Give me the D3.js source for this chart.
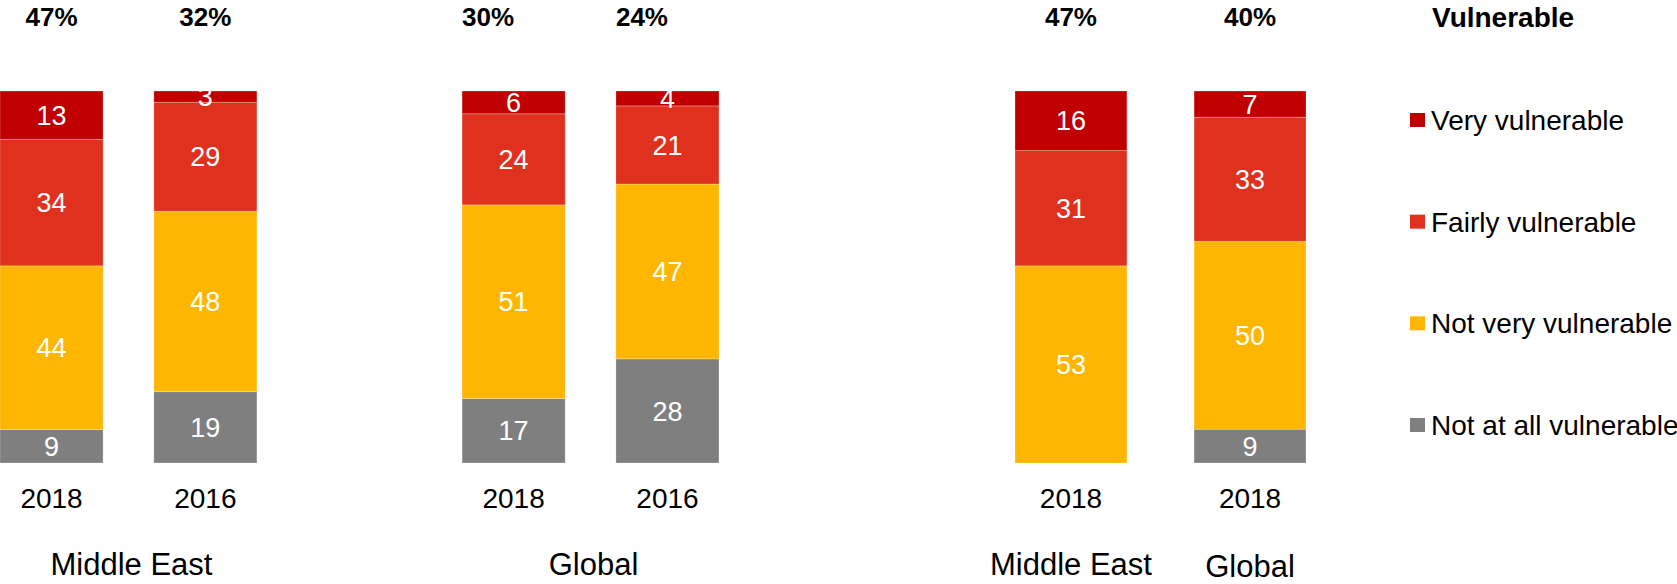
<!DOCTYPE html>
<html>
<head>
<meta charset="utf-8">
<script src="https://cdn.jsdelivr.net/npm/d3@7"></script>
<style>
  body { margin: 0; background: #fff; }
  text { font-family: "Liberation Sans", Arial, sans-serif; }
</style>
</head>
<body>
<svg id="chart"></svg>
<script>
var width = 1677, height = 584

// data
var series = ["Not at all vulnerable", "Not very vulnerable", "Fairly vulnerable", "Very vulnerable"]
var colors = ["#7f7f7f", "#ffb600", "#e0301e", "#c00000"]

var leftGroups = ["Middle East", "Global"]
var leftYears = ["2018", "2016"]
var leftData = [
    { group: "Middle East", year: "2018", total: "47", values: [9, 44, 34, 13] },
    { group: "Middle East", year: "2016", total: "32", values: [19, 48, 29, 3] },
    { group: "Global", year: "2018", total: "30", values: [17, 51, 24, 6] },
    { group: "Global", year: "2016", total: "24", values: [28, 47, 21, 4] }
]

var rightGroups = ["Middle East", "Global"]
var rightData = [
    { group: "Middle East", year: "2018", total: "47", values: [0, 53, 31, 16] },
    { group: "Global", year: "2018", total: "40", values: [9, 50, 33, 7] }
]

var legendTitle = "Vulnerable"
var legendOrder = [3, 2, 1, 0]

var svg = d3.select("#chart")
    .attr("width", width)
    .attr("height", height)

var y = d3.scaleLinear()
    .domain([0, 100])
    .range([463, 91])

var xOuter = d3.scaleBand()
    .domain(leftGroups)
    .range([0, 719])
    .paddingInner(0.444)

var xInner = d3.scaleBand()
    .domain(leftYears)
    .range([0, xOuter.bandwidth()])
    .paddingInner(0.33)

var xRight = d3.scaleBand()
    .domain(rightGroups)
    .range([1015, 1306])
    .paddingInner(0.375)

// labels inside bars get cut at the top of the plot
svg.append("clipPath")
    .attr("id", "plotclip")
  .append("rect")
    .attr("x", 0)
    .attr("y", y(100))
    .attr("width", width)
    .attr("height", y(0) - y(100))

// stack each bar to 100%
function stackBar(d) {
    var sum = d3.sum(d.values)
    var acc = 0
    return d.values.map(function(v, i) {
        var s = { y0: acc / sum * 100, y1: (acc + v) / sum * 100, v: v, i: i }
        acc += v
        return s
    })
}

function drawBar(d, x0, bw, totalAlign) {
    var g = svg.append("g")
    var segs = stackBar(d).filter(function(s) { return s.v > 0 })
    g.selectAll("rect")
        .data(segs)
        .enter()
        .append("rect")
            .attr("x", x0)
            .attr("width", bw)
            .attr("y", function(s) { return y(s.y1) })
            .attr("height", function(s) { return y(s.y0) - y(s.y1) })
            .attr("fill", function(s) { return colors[s.i] })
            .attr("stroke", "#fff")
            .attr("stroke-opacity", 0.25)
            .attr("stroke-width", 1)
    g.append("g")
        .attr("clip-path", "url(#plotclip)")
        .selectAll("text.val")
        .data(segs)
        .enter()
        .append("text")
            .attr("class", "val")
            .attr("x", x0 + bw / 2)
            .attr("y", function(s) { return (y(s.y0) + y(s.y1)) / 2 })
            .attr("dy", "0.36em")
            .attr("text-anchor", "middle")
            .attr("fill", "#fff")
            .style("font-size", "27px")
            .text(function(s) { return s.v })

    // top total
    svg.append("text")
        .attr("x", totalAlign == "start" ? x0 : x0 + bw / 2)
        .attr("y", 17)
        .attr("dy", "0.36em")
        .attr("text-anchor", totalAlign)
        .style("font-size", "26px")
        .style("font-weight", "bold")
        .text(d.total + "%")

    // year label
    svg.append("text")
        .attr("x", x0 + bw / 2)
        .attr("y", 498)
        .attr("dy", "0.36em")
        .attr("text-anchor", "middle")
        .style("font-size", "28px")
        .text(d.year)
}

leftData.forEach(function(d) {
    drawBar(d, xOuter(d.group) + xInner(d.year), xInner.bandwidth(),
        d.group == "Global" ? "start" : "middle")
})
rightData.forEach(function(d) {
    drawBar(d, xRight(d.group), xRight.bandwidth(), "middle")
})

// group labels
leftGroups.forEach(function(gname) {
    svg.append("text")
        .attr("x", xOuter(gname) + xOuter.bandwidth() / 2 + 3)
        .attr("y", 564)
        .attr("dy", "0.36em")
        .attr("text-anchor", "middle")
        .style("font-size", "31px")
        .text(gname)
})
rightGroups.forEach(function(gname, i) {
    svg.append("text")
        .attr("x", xRight(gname) + xRight.bandwidth() / 2)
        .attr("y", 564 + i * 2)
        .attr("dy", "0.36em")
        .attr("text-anchor", "middle")
        .style("font-size", "31px")
        .text(gname)
})

// legend
var legend = svg.append("g").attr("transform", "translate(1410,0)")
legend.append("text")
    .attr("x", 22)
    .attr("y", 17)
    .attr("dy", "0.36em")
    .style("font-size", "28px")
    .style("font-weight", "bold")
    .text(legendTitle)

var ly = d3.scalePoint()
    .domain(legendOrder)
    .range([120, 425])

var item = legend.selectAll("g.item")
    .data(legendOrder)
    .enter()
    .append("g")
        .attr("class", "item")
        .attr("transform", function(i) { return "translate(0," + ly(i) + ")" })
item.append("rect")
    .attr("x", 0)
    .attr("y", -7)
    .attr("width", 15)
    .attr("height", 14)
    .attr("fill", function(i) { return colors[i] })
item.append("text")
    .attr("x", 21)
    .attr("y", 0)
    .attr("dy", "0.36em")
    .style("font-size", "28px")
    .text(function(i) { return series[i] })
</script>
</body>
</html>
